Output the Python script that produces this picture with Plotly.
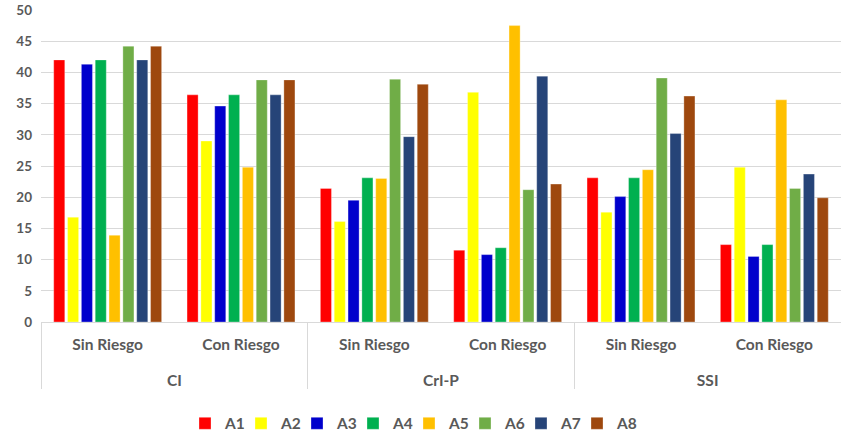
import plotly.graph_objects as go

groups = ["CI", "CI", "CrI-P", "CrI-P", "SSI", "SSI"]
subgroups = ["Sin Riesgo", "Con Riesgo", "Sin Riesgo", "Con Riesgo", "Sin Riesgo", "Con Riesgo"]

A1 = [42.0, 36.4, 21.4, 11.5, 23.1, 12.4]
A2 = [16.8, 29.0, 16.1, 36.8, 17.6, 24.8]
A3 = [41.3, 34.6, 19.5, 10.8, 20.1, 10.5]
A4 = [42.0, 36.4, 23.1, 11.9, 23.1, 12.4]
A5 = [13.9, 24.8, 23.0, 47.5, 24.4, 35.6]
A6 = [44.2, 38.8, 38.9, 21.2, 39.1, 21.4]
A7 = [42.0, 36.4, 29.7, 39.4, 30.2, 23.7]
A8 = [44.2, 38.8, 38.1, 22.1, 36.2, 19.9]

series_names = ["A1", "A2", "A3", "A4", "A5", "A6", "A7", "A8"]
series_values = [A1, A2, A3, A4, A5, A6, A7, A8]
colors = ["#FF0000", "#FFFF00", "#0000CC", "#00B050", "#FFC000", "#70AD47", "#264478", "#9E480E"]

y_ticks = [0, 5, 10, 15, 20, 25, 30, 35, 40, 45, 50]

font_family = "Lato, 'Open Sans', sans-serif"

# group labels pushed down to mimic the spacing of the reference
group_labels = ["<br><span style='baseline-shift:-4px'>" + g + "</span>" for g in groups]

fig = go.Figure()
for name, vals, col in zip(series_names, series_values, colors):
    fig.add_trace(go.Bar(
        x=[group_labels, subgroups],
        y=vals,
        name=name,
        marker=dict(color=col, line=dict(color="rgba(255,255,255,0.6)", width=0.5)),
    ))

fig.update_layout(
    width=841, height=436,
    margin=dict(l=41, r=0, t=10, b=114, autoexpand=False),
    barmode="group",
    bargap=0.17,
    bargroupgap=0.2,
    plot_bgcolor="white",
    paper_bgcolor="white",
    font=dict(family=font_family, size=15, color="#595959", weight="bold"),
    legend=dict(
        orientation="h", x=0.46, xanchor="center", y=-0.326, yanchor="middle",
        font=dict(size=15.5, color="#595959", weight="bold"),
        itemwidth=30, traceorder="normal",
        entrywidth=11, entrywidthmode="pixels",
    ),
    showlegend=True,
)
fig.update_yaxes(
    range=[0, 50], tickvals=y_ticks, showgrid=True, gridcolor="#D9D9D9", gridwidth=1,
    zeroline=False, showline=False, ticks="", automargin=False,
    ticklabelstandoff=8,
    tickfont=dict(size=13.5, color="#595959", weight="bold"),
)
fig.update_xaxes(
    showline=True, linecolor="#D9D9D9", linewidth=1, ticks="", automargin=False,
    showdividers=True, dividercolor="#D9D9D9", dividerwidth=1,
    ticklabelstandoff=8,
    tickfont=dict(size=15.5, color="#595959", weight="bold"),
)

fig.write_html(
    "out.html",
    config={"displayModeBar": False},
    post_script=(
        "document.body.style.margin='0';document.body.style.padding='0';"
        "document.querySelectorAll('.legend [clip-path]').forEach(function(e){e.removeAttribute('clip-path');});"
    ),
)
